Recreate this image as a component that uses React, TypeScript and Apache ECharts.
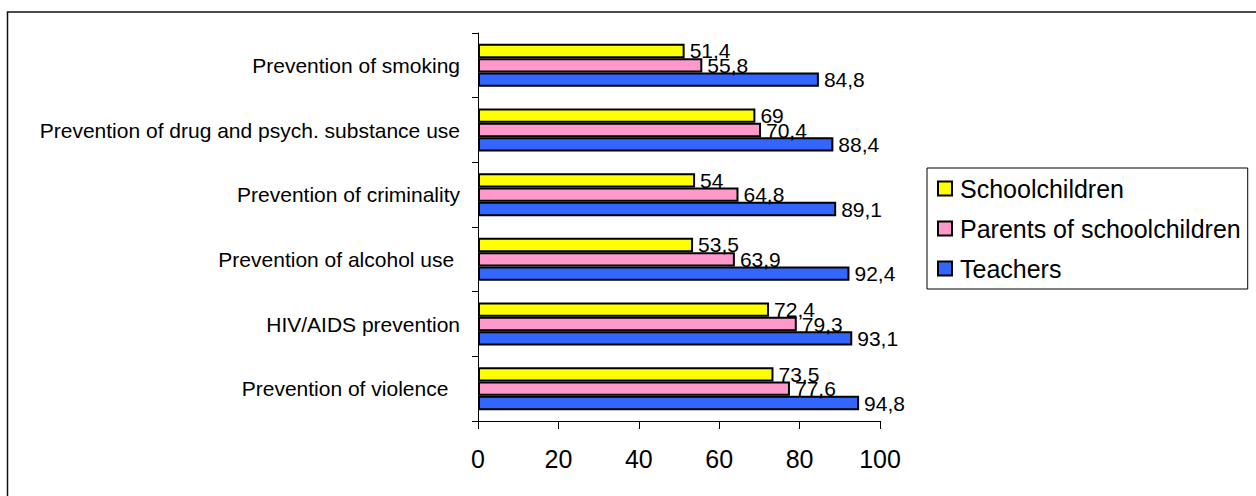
import React, { useEffect, useRef } from "react";
import * as echarts from "echarts";

// Categories listed from the bottom of the axis to the top
const categories = [
  "Prevention of violence\u00a0\u00a0",
  "HIV/AIDS prevention",
  "Prevention of alcohol use\u00a0",
  "Prevention of criminality",
  "Prevention of drug and psych. substance use",
  "Prevention of smoking",
];

const teachers = [94.8, 93.1, 92.4, 89.1, 88.4, 84.8];
const parents = [77.6, 79.3, 63.9, 64.8, 70.4, 55.8];
const schoolchildren = [73.5, 72.4, 53.5, 54, 69, 51.4];

const xTicks = { min: 0, max: 100, interval: 20 };

const FONT = "'Liberation Sans', Arial, sans-serif";

const fmt = (p: any) => String(p.value).replace(".", ",");

function barSeries(name: string, data: number[], color: string) {
  return {
    name,
    type: "bar",
    data,
    barGap: "0%",
    barCategoryGap: "33.5%",
    itemStyle: { color, borderColor: "#000", borderWidth: 2 },
    label: {
      show: true,
      position: "right",
      distance: 5,
      formatter: fmt,
      color: "#000",
      fontFamily: FONT,
      fontSize: 21,
    },
  };
}

export default function App() {
  const ref = useRef<HTMLDivElement>(null);

  useEffect(() => {
    if (!ref.current) return;
    const chart = echarts.init(ref.current, null, { renderer: "svg" });
    chart.setOption({
      animation: false,
      backgroundColor: "#fff",
      textStyle: { fontFamily: FONT },
      graphic: [
        {
          type: "rect",
          shape: { x: 7.5, y: 12, width: 1400, height: 700 },
          style: { fill: "none", stroke: "#111", lineWidth: 1.5 },
          silent: true,
        },
      ],
      grid: { left: 478, right: 376, top: 33, bottom: 75, containLabel: false },
      legend: {
        orient: "vertical",
        left: 927,
        top: 168,
        padding: [8, 7, 8, 10],
        borderColor: "#000",
        borderWidth: 1,
        itemWidth: 14,
        itemHeight: 14,
        itemGap: 15,
        icon: "rect",
        data: ["Schoolchildren", "Parents of schoolchildren", "Teachers"],
        textStyle: {
          fontFamily: FONT,
          fontSize: 25,
          lineHeight: 24,
          color: "#000",
          padding: [0, 0, 0, 3],
        },
      },
      xAxis: {
        type: "value",
        min: xTicks.min,
        max: xTicks.max,
        interval: xTicks.interval,
        splitLine: { show: false },
        axisLine: { show: true, lineStyle: { color: "#000", width: 1 } },
        axisTick: { show: true, length: 8, lineStyle: { color: "#000" } },
        axisLabel: { color: "#000", fontSize: 25, fontFamily: FONT, margin: 25 },
      },
      yAxis: {
        type: "category",
        data: categories,
        axisLine: { show: true, lineStyle: { color: "#000", width: 1 } },
        axisTick: { show: true, length: 6, lineStyle: { color: "#000" } },
        axisLabel: { color: "#000", fontSize: 21, fontFamily: FONT, margin: 18 },
      },
      series: [
        barSeries("Schoolchildren", schoolchildren, "#FFFF00"),
        barSeries("Parents of schoolchildren", parents, "#FF99CC"),
        barSeries("Teachers", teachers, "#3366FF"),
      ],
    });
    return () => chart.dispose();
  }, []);

  return (
    <div
      ref={ref}
      style={{ position: "absolute", left: 0, top: 0, width: 1256, height: 496 }}
    />
  );
}
